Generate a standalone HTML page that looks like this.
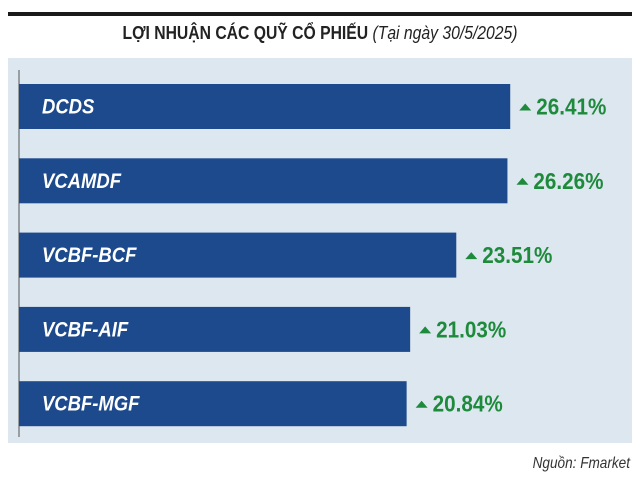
<!DOCTYPE html>
<html><head><meta charset="utf-8"><style>
body{margin:0;background:#fff;width:640px;height:477px;overflow:hidden;font-family:"Liberation Sans",sans-serif;}
</style></head><body>
<svg width="640" height="477">
<rect x="8" y="12" width="624" height="4" fill="#1a1a1a"/>
<text x="320" y="39" text-anchor="middle" font-size="18.5" font-weight="bold" fill="#222" transform="translate(320 0) scale(0.85 1) translate(-320 0)">LỢI NHUẬN CÁC QUỸ CỔ PHIẾU <tspan font-weight="normal" font-style="italic">(Tại ngày 30/5/2025)</tspan></text>
<rect x="8" y="58" width="624" height="385" fill="#dde7ef"/>
<line x1="19" y1="70" x2="19" y2="437" stroke="#555" stroke-width="1"/>
<g id="bars"></g>
<text x="630" y="468" text-anchor="end" font-size="16" font-style="italic" fill="#333" transform="translate(630 0) scale(0.85 1) translate(-630 0)">Nguồn: Fmarket</text>
</svg>
<script>
const categories=["DCDS","VCAMDF","VCBF-BCF","VCBF-AIF","VCBF-MGF"];
const values=[26.41,26.26,23.51,21.03,20.84];
const labels=["26.41%","26.26%","23.51%","21.03%","20.84%"];
const x0=19, scale=18.6, top0=84, pitch=74.3, bh=45;
const xs=v=>x0+v*scale;
const g=document.getElementById('bars');
const NS='http://www.w3.org/2000/svg';
categories.forEach((c,i)=>{
  const y=top0+i*pitch, xe=xs(values[i]);
  const r=document.createElementNS(NS,'rect');
  r.setAttribute('x',x0);r.setAttribute('y',y);r.setAttribute('width',xe-x0);r.setAttribute('height',bh);r.setAttribute('fill','#1c4a8c');
  
  
  g.appendChild(r);
  const t=document.createElementNS(NS,'text');
  t.setAttribute('x',42);t.setAttribute('y',y+bh/2+7);t.setAttribute('font-size','21');t.setAttribute('font-style','italic');t.setAttribute('font-weight','bold');t.setAttribute('fill','#fff');
  t.setAttribute('transform','translate(42 0) scale(0.88 1) translate(-42 0)');
  t.textContent=c;
  
  
  g.appendChild(t);
  const tx=xe+9, cy=y+bh/2;
  const p=document.createElementNS(NS,'polygon');
  p.setAttribute('points',`${tx},${cy+4} ${tx+12},${cy+4} ${tx+6},${cy-3}`);p.setAttribute('fill','#1e8a3c');
  
  
  g.appendChild(p);
  const v=document.createElementNS(NS,'text');
  v.setAttribute('x',tx+17);v.setAttribute('y',cy+8);v.setAttribute('font-size','23.5');v.setAttribute('font-weight','bold');v.setAttribute('fill','#1e8a3c');
  v.setAttribute('transform',`translate(${tx+17} 0) scale(0.88 1) translate(${-(tx+17)} 0)`);
  v.textContent=labels[i];
  
  
  g.appendChild(v);
});
</script>
</body></html>
